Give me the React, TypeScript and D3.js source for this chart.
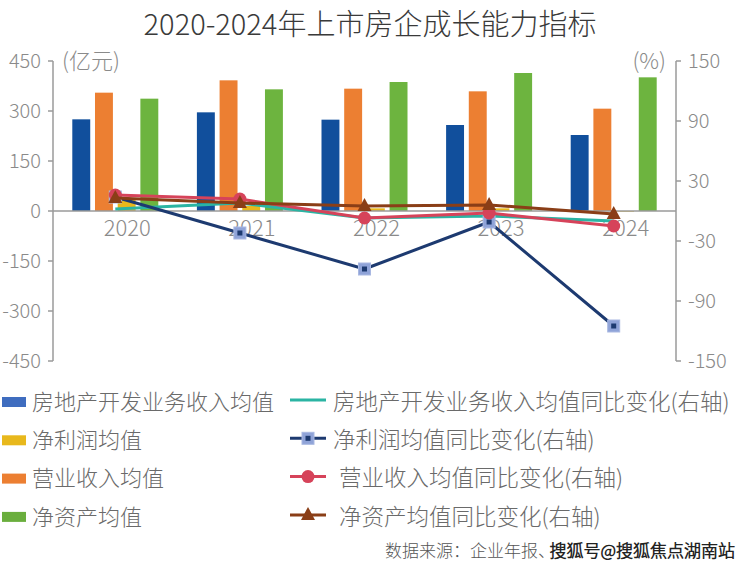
import React, { useEffect } from 'react';
import * as d3 from 'd3';

const years = ['2020', '2021', '2022', '2023', '2024'];
const devRevenue = [275, 296, 274, 258, 228];
const netProfit = [35, 15, 8, 8, -2];
const revenue = [355, 392, 367, 359, 307];
const netAssets = [337, 365, 387, 414, 401];
const devRevenueYoY = [2, 8, -7, -5, -10];
const netProfitYoY = [14, -22, -58, -11, -115];
const revenueYoY = [16, 12, -7, -2, -15];
const netAssetsYoY = [13, 8, 5, 6, -3];
const leftTicks = [450, 300, 150, 0, -150, -300, -450];
const rightTicks = [150, 90, 30, -30, -90, -150];

const FONT = '"Noto Sans CJK SC Light", "Noto Sans CJK SC DemiLight", "Noto Sans CJK SC", "Noto Sans", sans-serif';
const W = 740, H = 565;
const X0 = 53, X1 = 676, YT = 61, YB = 361;

const barSeries = [
  { key: 'dev', name: '房地产开发业务收入均值', values: devRevenue, color: '#114f9c', legend: '#3f6dbf' },
  { key: 'rev', name: '营业收入均值', values: revenue, color: '#ec7f32', legend: '#ec7f32' },
  { key: 'np', name: '净利润均值', values: netProfit, color: '#e8b81c', legend: '#e8b81c' },
  { key: 'na', name: '净资产均值', values: netAssets, color: '#6db43f', legend: '#6aae3d' },
];
const legendLeft = ['dev', 'np', 'rev', 'na'];

const lineSeries = [
  { name: '房地产开发业务收入均值同比变化(右轴)', values: devRevenueYoY, color: '#2bb4a3', marker: 'none', tx: 333 },
  { name: '净利润均值同比变化(右轴)', values: netProfitYoY, color: '#1d3a70', marker: 'square', tx: 333 },
  { name: '营业收入均值同比变化(右轴)', values: revenueYoY, color: '#d6435a', marker: 'circle', tx: 339 },
  { name: '净资产均值同比变化(右轴)', values: netAssetsYoY, color: '#8a3e17', marker: 'triangle', tx: 339 },
];

function Marker({ type, x, y, color }: { type: string; x: number; y: number; color: string }) {
  if (type === 'square') {
    return (
      <g>
        <rect x={x - 6} y={y - 6} width={12} height={12} fill="#8fa3d8" stroke="#a9b8e2" strokeWidth={1} />
        <rect x={x - 2.5} y={y - 2.5} width={5} height={5} fill={color} />
      </g>
    );
  }
  if (type === 'circle') {
    return <circle cx={x} cy={y} r={6.5} fill={color} />;
  }
  if (type === 'triangle') {
    const p = d3.path();
    p.moveTo(x, y - 8);
    p.lineTo(x + 7, y + 5);
    p.lineTo(x - 7, y + 5);
    p.closePath();
    return <path d={p.toString()} fill={color} />;
  }
  return null;
}

export default function App() {
  useEffect(() => {
    document.body.style.margin = '0';
  }, []);

  const x = d3.scaleBand<string>().domain(years).range([X0, X1]).padding(0);
  const inner = d3.scaleBand<string>().domain(barSeries.map(s => s.key)).range([-43, 43]).paddingInner(0.21);
  const yL = d3.scaleLinear().domain([-450, 450]).range([YB, YT]);
  const yR = d3.scaleLinear().domain([-150, 150]).range([YB, YT]);
  const cx = (yr: string) => (x(yr) as number) + x.bandwidth() / 2;

  const line = d3.line<number>()
    .x((_, i) => cx(years[i]))
    .y(v => yR(v));

  const axisColor = '#9a9a9a';
  const tickText = '#8a8a8a';

  return (
    <svg width={W} height={H} style={{ position: 'absolute', left: 0, top: 0, background: '#fff' }} fontFamily={FONT}>
      <text x={370} y={35} textAnchor="middle" fontSize={29} fill="#3a3a3a" fontWeight={300}>
        2020-2024年上市房企成长能力指标
      </text>

      {/* bars */}
      {barSeries.map(s => (
        <g key={s.key}>
          {s.values.map((v, i) => {
            const bx = cx(years[i]) + (inner(s.key) as number);
            const y0 = yL(0), y1 = yL(v);
            return (
              <rect key={i} x={bx} y={Math.min(y0, y1)} width={inner.bandwidth()} height={Math.abs(y1 - y0)} fill={s.color} />
            );
          })}
        </g>
      ))}

      {/* axes */}
      <line x1={X0} x2={X1} y1={yL(0)} y2={yL(0)} stroke={axisColor} strokeWidth={1.5} />
      <line x1={X0} x2={X0} y1={YT} y2={YB} stroke={axisColor} strokeWidth={1.5} />
      <line x1={X1} x2={X1} y1={YT} y2={YB} stroke={axisColor} strokeWidth={1.5} />
      {leftTicks.map(t => (
        <g key={'l' + t}>
          <line x1={X0 - 5} x2={X0} y1={yL(t)} y2={yL(t)} stroke={axisColor} strokeWidth={1.5} />
          <text x={41} y={yL(t)} dy="0.35em" textAnchor="end" fontSize={20} fill={tickText} fontWeight={300}>{t}</text>
        </g>
      ))}
      {rightTicks.map(t => (
        <g key={'r' + t}>
          <line x1={X1} x2={X1 + 5} y1={yR(t)} y2={yR(t)} stroke={axisColor} strokeWidth={1.5} />
          <text x={688} y={yR(t)} dy="0.35em" textAnchor="start" fontSize={20} fill={tickText} fontWeight={300}>{t}</text>
        </g>
      ))}
      <text x={62} y={yL(450)} dy="0.35em" fontSize={22} fill={tickText} fontWeight={300}>(亿元)</text>
      <text x={666} y={yR(150)} dy="0.35em" textAnchor="end" fontSize={22} fill={tickText} fontWeight={300}>(%)</text>
      {years.map(yr => (
        <text key={yr} x={cx(yr) + 12} y={228} dy="0.35em" textAnchor="middle" fontSize={22} fill={tickText} fontWeight={300}>{yr}</text>
      ))}

      {/* lines */}
      {lineSeries.map(s => (
        <g key={s.name}>
          <path d={line(s.values) || ''} fill="none" stroke={s.color} strokeWidth={3} strokeLinejoin="round" />
          {s.values.map((v, i) => (
            <Marker key={i} type={s.marker} x={cx(years[i])} y={yR(v)} color={s.color} />
          ))}
        </g>
      ))}

      {/* legend left */}
      {legendLeft.map((k, i) => {
        const s = barSeries.find(b => b.key === k)!;
        const yy = 402 + i * 38.3;
        return (
          <g key={k}>
            <rect x={2} y={yy - 5} width={24} height={10} fill={s.legend} />
            <text x={32} y={yy} dy="0.35em" fontSize={22} fill="#6a6a6a" fontWeight={300}>{s.name}</text>
          </g>
        );
      })}
      {/* legend right */}
      {lineSeries.map((s, i) => {
        const yy = 400 + i * 38.3;
        return (
          <g key={s.name}>
            <line x1={290} x2={326} y1={yy} y2={yy} stroke={s.color} strokeWidth={3} />
            <Marker type={s.marker} x={308} y={yy} color={s.color} />
            <text x={s.tx} y={yy + 2} dy="0.35em" fontSize={22.5} fill="#6a6a6a" fontWeight={300}>{s.name}</text>
          </g>
        );
      })}

      <text x={385} y={551} dy="0.35em" fontSize={17} fill="#555" fontWeight={300}>数据来源：企业年报、</text>
      <text x={735} y={551} dy="0.35em" textAnchor="end" fontSize={17} fill="#222" fontWeight={700}>搜狐号@搜狐焦点湖南站</text>
    </svg>
  );
}
